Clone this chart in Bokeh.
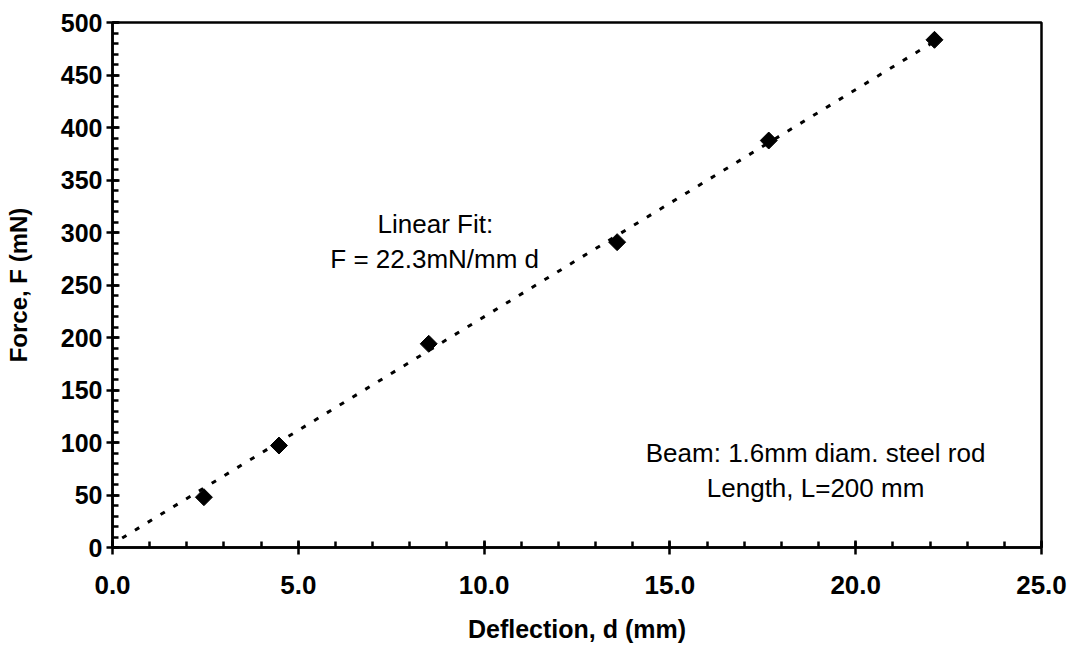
import math
from bokeh.plotting import figure
from bokeh.models import Range1d, SingleIntervalTicker, CustomJSTickFormatter
from bokeh.core.properties import value
from bokeh.embed import file_html
from bokeh.resources import INLINE

# measured data (deflection mm, force mN)
deflection = [2.46, 4.48, 8.51, 13.58, 17.66, 22.12]
force = [47.9, 97.1, 194.0, 290.8, 387.6, 483.5]

# linear-fit line endpoints
fit_d = [0.26, 22.12]
fit_F = [9.0, 482.0]

x_ticks = [0.0, 5.0, 10.0, 15.0, 20.0, 25.0]
y_ticks = [0, 50, 100, 150, 200, 250, 300, 350, 400, 450, 500]

ann1_lines = ["Linear Fit:", "F = 22.3mN/mm d"]
ann1_x = [8.69, 8.67]
ann1_y = [308.0, 275.0]
ann2_lines = ["Beam: 1.6mm diam. steel rod", "Length, L=200 mm"]
ann2_x = [18.92, 18.92]
ann2_y = [90.0, 57.0]

FONT = "Liberation Sans"

p = figure(width=1072, height=653, output_backend="svg", toolbar_location=None,
           x_range=Range1d(0, 25), y_range=Range1d(0, 500),
           min_border_left=112, min_border_right=31, min_border_top=22,
           min_border_bottom=106)
p.background_fill_color = "white"
p.border_fill_color = "white"
p.outline_line_color = "black"
p.outline_line_width = 2.5
p.grid.visible = False

# x axis
xa = p.xaxis[0]
xa.ticker = SingleIntervalTicker(interval=5, num_minor_ticks=5)
xa.formatter = CustomJSTickFormatter(code="return tick.toFixed(1);")
xa.axis_label = "Deflection, d (mm)"
xa.axis_label_text_font = FONT
xa.axis_label_text_font_style = "bold"
xa.axis_label_text_font_size = "25px"
xa.axis_label_text_color = "black"
xa.axis_label_standoff = 18
xa.major_label_text_font = FONT
xa.major_label_text_font_style = "bold"
xa.major_label_text_font_size = "26px"
xa.major_label_text_color = "black"
xa.major_label_standoff = 21
xa.axis_line_color = "black"
xa.axis_line_width = 2.5
xa.major_tick_line_color = "black"
xa.major_tick_line_width = 2.5
xa.major_tick_in = 7
xa.major_tick_out = 7
xa.minor_tick_line_color = "black"
xa.minor_tick_line_width = 2.5
xa.minor_tick_in = 6
xa.minor_tick_out = 0

# y axis
ya = p.yaxis[0]
ya.ticker = SingleIntervalTicker(interval=50, num_minor_ticks=5)
ya.axis_label = "Force, F (mN)"
ya.axis_label_text_font = FONT
ya.axis_label_text_font_style = "bold"
ya.axis_label_text_font_size = "24px"
ya.axis_label_text_color = "black"
ya.axis_label_standoff = 26
ya.major_label_text_font = FONT
ya.major_label_text_font_style = "bold"
ya.major_label_text_font_size = "25px"
ya.major_label_text_color = "black"
ya.major_label_standoff = 4
ya.axis_line_color = "black"
ya.axis_line_width = 2.5
ya.major_tick_line_color = "black"
ya.major_tick_line_width = 2.5
ya.major_tick_in = 7
ya.major_tick_out = 6
ya.minor_tick_line_color = "black"
ya.minor_tick_line_width = 2.5
ya.minor_tick_in = 6
ya.minor_tick_out = 0

# dotted linear fit
p.line(fit_d, fit_F, line_color="black", line_width=3, line_dash="5 10")

# data markers (diamonds)
p.scatter(deflection, force, marker="square", size=12, angle=math.pi / 4,
          fill_color="black", line_color="black", line_width=1)

# annotations
p.text(ann1_x, ann1_y, text=ann1_lines, text_font=value(FONT), text_font_size="26px",
       text_align="center", text_baseline="alphabetic", text_color="black")
p.text(ann2_x, ann2_y, text=ann2_lines, text_font=value(FONT), text_font_size="26px",
       text_align="center", text_baseline="alphabetic", text_color="black")

open("out.html", "w").write(file_html(p, INLINE))
